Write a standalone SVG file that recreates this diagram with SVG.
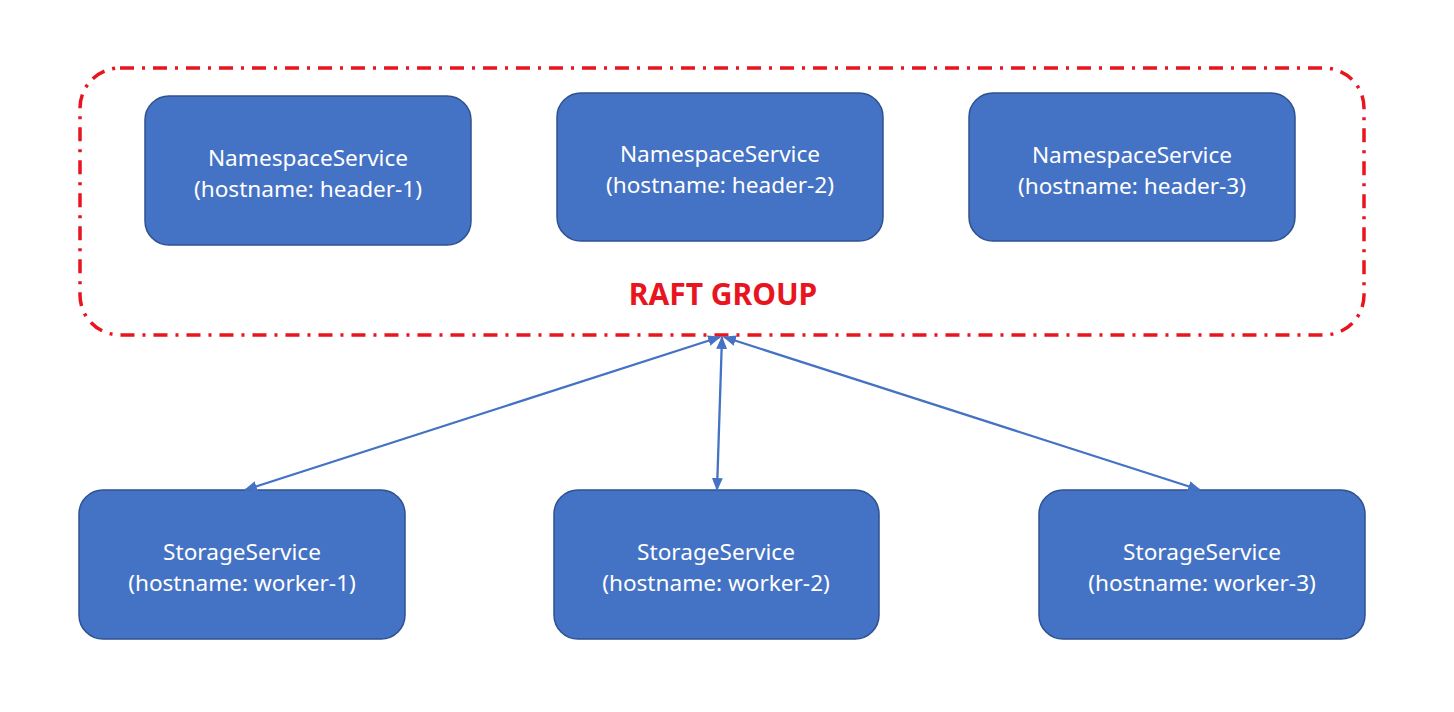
<svg xmlns="http://www.w3.org/2000/svg" width="1454" height="712" viewBox="0 0 1454 712">
<defs>
<style>
.node rect{fill:#4472C4;stroke:#2F528F;stroke-width:1.5}
.node text{fill:#fff;font-family:"Noto Sans","Liberation Sans",sans-serif;font-size:22.6px;text-anchor:middle}
.conn line{stroke:#4472C4;stroke-width:2.3}
</style>
<marker id="a" viewBox="0 0 12 10" refX="11" refY="5" markerWidth="13" markerHeight="11" orient="auto-start-reverse" markerUnits="userSpaceOnUse">
<path d="M0,0 L12,5 L0,10 z" fill="#4472C4"/>
</marker>
</defs>
<rect width="1454" height="712" fill="#fff"/>
<g id="raft-group">
<rect x="80" y="68" width="1284" height="267" rx="40" ry="40" fill="none" stroke="#E8141E" stroke-width="3.5" stroke-dasharray="14 8 3 8"/>
<text x="723" y="305" fill="#E8141E" font-family="Noto Sans, Liberation Sans, sans-serif" font-size="30" font-weight="bold" text-anchor="middle">RAFT GROUP</text>
</g>
<g id="ns1" class="node"><rect x="145" y="96" width="326" height="149" rx="24"/><text x="308" y="166">NamespaceService</text><text x="308" y="197">(hostname: header-1)</text></g>
<g id="ns2" class="node"><rect x="557" y="93" width="326" height="148" rx="24"/><text x="720" y="162">NamespaceService</text><text x="720" y="193">(hostname: header-2)</text></g>
<g id="ns3" class="node"><rect x="969" y="93" width="326" height="148" rx="24"/><text x="1132" y="163">NamespaceService</text><text x="1132" y="194">(hostname: header-3)</text></g>
<g id="ss1" class="node"><rect x="79" y="490" width="326" height="149" rx="24"/><text x="242" y="560">StorageService</text><text x="242" y="591">(hostname: worker-1)</text></g>
<g id="ss2" class="node"><rect x="554" y="490" width="325" height="149" rx="24"/><text x="716" y="560">StorageService</text><text x="716" y="591">(hostname: worker-2)</text></g>
<g id="ss3" class="node"><rect x="1039" y="490" width="326" height="149" rx="24"/><text x="1202" y="560">StorageService</text><text x="1202" y="591">(hostname: worker-3)</text></g>
<g id="connectors" class="conn">
<line x1="245" y1="490" x2="720" y2="337" marker-start="url(#a)" marker-end="url(#a)"/>
<line x1="717" y1="490" x2="722" y2="337" marker-start="url(#a)" marker-end="url(#a)"/>
<line x1="1200" y1="490" x2="724" y2="337" marker-start="url(#a)" marker-end="url(#a)"/>
</g>
</svg>
